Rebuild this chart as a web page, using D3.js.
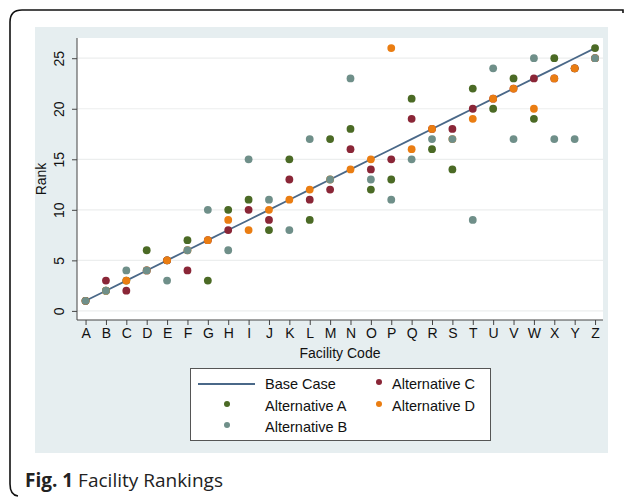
<!DOCTYPE html>
<html><head><meta charset="utf-8">
<script src="https://cdn.jsdelivr.net/npm/d3@7/dist/d3.min.js"></script>
<style>body{margin:0;background:#fff;}svg{display:block;} .lib{font-family:"Liberation Sans";}</style>
</head><body>
<script>
const facilities = "ABCDEFGHIJKLMNOPQRSTUVWXYZ".split("");
const baseCase = [1,2,3,4,5,6,7,8,9,10,11,12,13,14,15,16,17,18,19,20,21,22,23,24,25,26];
const altA = [1,2,3,6,5,7,3,10,11,8,15,9,17,18,12,13,21,16,14,22,20,23,19,25,24,26];
const altB = [1,2,4,4,3,6,10,6,15,11,8,17,13,23,13,11,15,17,17,9,24,17,25,17,17,25];
const altC = [1,3,2,4,5,4,7,8,10,9,13,11,12,16,14,15,19,18,18,20,21,22,23,23,24,25];
const altD = [1,2,3,4,5,6,7,9,8,10,11,12,13,14,15,26,16,18,17,19,21,22,20,23,24,25];
const yTicks = [0,5,10,15,20,25];
const colors = {base:"#4a6888", A:"#4b6a25", B:"#6f8f89", C:"#8a2637", D:"#ea7d12"};

(function(){
const W = 627, H = 497;
const svg = d3.select("body").append("svg").attr("width", W).attr("height", H);

svg.append("path")
  .attr("d", "M623,13 L623,10 L22,10 Q10,10 10,22 L10,484 Q10,495 18,496")
  .attr("fill","none").attr("stroke","#111").attr("stroke-width",1.6);

svg.append("rect").attr("x",35).attr("y",27).attr("width",573).attr("height",426).attr("fill","#e6eef0");

const pL = 77, pR = 603, pT = 38, pB = 320;
svg.append("rect").attr("x",pL).attr("y",pT).attr("width",pR-pL).attr("height",pB-pT).attr("fill","#fff");

const x = d3.scaleLinear().domain([-0.42, 25.39]).range([pL, pR]);
const y = d3.scaleLinear().domain([-0.9, 27]).range([pB, pT]);

svg.append("g").selectAll("line").data(yTicks).join("line")
  .attr("x1", pL).attr("x2", pR).attr("y1", d=>y(d)).attr("y2", d=>y(d))
  .attr("stroke","#eceeee").attr("stroke-width",1.2);

const yAxis = svg.append("g").attr("transform",`translate(${pL},0)`)
  .call(d3.axisLeft(y).tickValues(yTicks).tickSize(5).tickSizeOuter(0));
yAxis.attr("font-family",null);
yAxis.select(".domain").attr("stroke","#444").attr("d", `M0,${pT}V${pB}`);
yAxis.selectAll(".tick line").attr("stroke","#444");
yAxis.selectAll(".tick text").attr("class","lib").attr("font-size",14).attr("fill","#111")
  .attr("text-anchor","middle").attr("x",0).attr("y",0).attr("dy","0.35em")
  .attr("transform","translate(-18,0) rotate(-90)");

const xAxis = svg.append("g").attr("transform",`translate(0,${pB})`)
  .call(d3.axisBottom(x).tickValues(d3.range(facilities.length)).tickFormat(i=>facilities[i]).tickSize(5).tickPadding(3).tickSizeOuter(0));
xAxis.attr("font-family",null);
xAxis.select(".domain").attr("stroke","#444").attr("d", `M${pL},0H${pR}`);
xAxis.selectAll(".tick line").attr("stroke","#444");
xAxis.selectAll(".tick text").attr("class","lib").attr("font-size",14).attr("fill","#111");

svg.append("text").attr("class","lib").attr("x",(pL+pR)/2).attr("y",358).attr("text-anchor","middle")
  .attr("font-size",14).attr("fill","#111").text("Facility Code");
svg.append("text").attr("class","lib").attr("transform",`translate(46,${(pT+pB)/2}) rotate(-90)`).attr("text-anchor","middle")
  .attr("font-size",14).attr("fill","#111").text("Rank");

svg.append("path").datum(baseCase)
  .attr("d", d3.line().x((d,i)=>x(i)).y(d=>y(d)))
  .attr("fill","none").attr("stroke",colors.base).attr("stroke-width",1.8);

const series = [["A",altA],["C",altC],["D",altD],["B",altB]];
series.forEach(([k,vals])=>{
  svg.append("g").selectAll("circle").data(vals).join("circle")
    .attr("cx",(d,i)=>x(i)).attr("cy",d=>y(d)).attr("r",3.9).attr("fill",colors[k]);
});

const lg = svg.append("g");
lg.append("rect").attr("x",190.5).attr("y",368.5).attr("width",300).attr("height",72)
  .attr("fill","#fff").attr("stroke","#555").attr("stroke-width",1);
lg.append("line").attr("x1",198).attr("x2",255).attr("y1",384).attr("y2",384).attr("stroke",colors.base).attr("stroke-width",1.8);
const legItems = [
  {t:"Base Case", tx:265, ty:384},
  {t:"Alternative A", tx:265, ty:406, cx:227, c:colors.A},
  {t:"Alternative B", tx:265, ty:427, cx:227, c:colors.B},
  {t:"Alternative C", tx:392, ty:384, cx:379, c:colors.C},
  {t:"Alternative D", tx:392, ty:406, cx:379, c:colors.D}
];
legItems.forEach(d=>{
  if(d.c) lg.append("circle").attr("cx",d.cx).attr("cy",d.ty-2).attr("r",3).attr("fill",d.c);
  lg.append("text").attr("class","lib").attr("x",d.tx).attr("y",d.ty).attr("dy","0.35em")
    .attr("font-size",14.5).attr("fill","#111").text(d.t);
});

const cap = svg.append("text").attr("x",25).attr("y",487).attr("font-family","'Open Sans', sans-serif").attr("font-size",19).attr("fill","#222");
cap.append("tspan").attr("font-weight","bold").text("Fig. 1");
cap.append("tspan").text(" Facility Rankings");
})();
</script>
</body></html>
